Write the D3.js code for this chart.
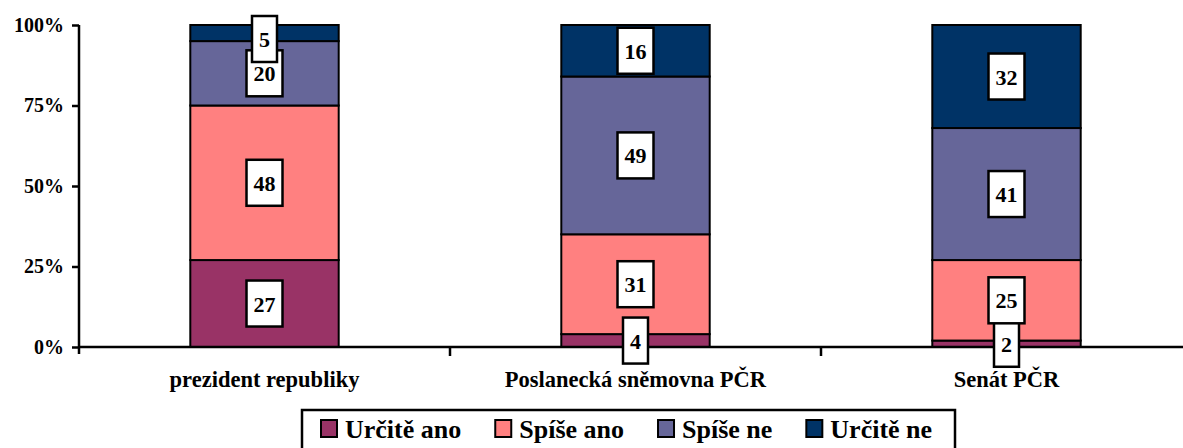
<!DOCTYPE html>
<html>
<head>
<meta charset="utf-8">
<script src="https://cdn.jsdelivr.net/npm/d3@7"></script>
<style>
html,body{margin:0;padding:0;background:#fff;}
svg{display:block;}
svg text{font-family:"Times New Roman","Liberation Serif",Tinos,"DejaVu Serif",serif !important;font-weight:bold;fill:#000;}
</style>
</head>
<body>
<svg id="chart" width="1183" height="448"></svg>
<script>
const categories = ["prezident republiky", "Poslanecká sněmovna PČR", "Senát PČR"];
const seriesNames = ["Určitě ano", "Spíše ano", "Spíše ne", "Určitě ne"];
const seriesColors = ["#993366", "#FF8080", "#666699", "#003366"];
const urciteAno = [27, 4, 2];
const spiseAno = [48, 31, 25];
const spiseNe = [20, 49, 41];
const urciteNe = [5, 16, 32];
const yTicks = [0, 25, 50, 75, 100];
const yTickLabels = ["0%", "25%", "50%", "75%", "100%"];

(function () {
const FONT = '"Times New Roman","Liberation Serif",Tinos,"DejaVu Serif",serif';
const seriesValues = [urciteAno, spiseAno, spiseNe, urciteNe];
const table = categories.map((c, i) => {
  const o = {cat: c};
  seriesNames.forEach((s, j) => o[s] = seriesValues[j][i]);
  return o;
});
const stacked = d3.stack().keys(seriesNames)(table);

const svg = d3.select("#chart");
const pLeft = 79, pTop = 25, pBottom = 347;
const step = 371;
const x = d3.scaleBand().domain(categories).range([pLeft, pLeft + step * categories.length])
  .paddingInner(0.6).paddingOuter(0.3);
const y = d3.scaleLinear().domain([0, 100]).range([pBottom, pTop]);

// bars
const g = svg.append("g");
stacked.forEach((layer, j) => {
  g.selectAll(null).data(layer).enter().append("rect")
    .attr("x", d => x(d.data.cat))
    .attr("width", x.bandwidth())
    .attr("y", d => y(d[1]))
    .attr("height", d => y(d[0]) - y(d[1]))
    .attr("fill", seriesColors[j])
    .attr("stroke", "#000")
    .attr("stroke-width", 2);
});

// y axis
const yAxis = d3.axisLeft(y).tickValues(yTicks).tickFormat((d, i) => yTickLabels[i]).tickSize(7).tickPadding(8);
const ya = svg.append("g").attr("transform", `translate(${pLeft},0)`).call(yAxis)
  .attr("font-family", FONT).attr("font-size", 20);
ya.select(".domain").attr("stroke", "#000").attr("stroke-width", 2.5).attr("d", `M0,${pTop}V${pBottom + 7}`);
ya.selectAll(".tick line").attr("stroke", "#000").attr("stroke-width", 2.5);
ya.selectAll(".tick text").attr("font-family", FONT).attr("font-weight", "bold").attr("fill", "#000");

// x axis
const xa = svg.append("g").attr("transform", `translate(0,${pBottom})`);
xa.append("line").attr("x1", pLeft).attr("x2", 1183).attr("y1", 0).attr("y2", 0)
  .attr("stroke", "#000").attr("stroke-width", 2.5);
categories.slice(1).forEach(c => {
  const bx = x(c) - x.step() * x.paddingInner() / 2;
  xa.append("line").attr("x1", bx).attr("x2", bx).attr("y1", 0).attr("y2", 9)
    .attr("stroke", "#000").attr("stroke-width", 2.5);
});
categories.forEach(c => {
  xa.append("text").attr("x", x(c) + x.bandwidth() / 2).attr("y", 40)
    .attr("text-anchor", "middle").attr("font-family", FONT).attr("font-size", 22.5).text(c);
});

// data labels
const lg = svg.append("g");
stacked.forEach((layer, j) => {
  layer.forEach(d => {
    const v = d[1] - d[0];
    let cy = y((d[0] + d[1]) / 2);
    cy = Math.max(cy, pTop + 14);
    const cx = x(d.data.cat) + x.bandwidth() / 2;
    const t = lg.append("text").attr("x", cx).attr("y", cy + 8).attr("text-anchor", "middle")
      .attr("font-family", FONT).attr("font-size", 22).text(v);
    const w = t.node().getComputedTextLength() + 14;
    lg.insert("rect", () => t.node()).attr("x", cx - w / 2).attr("y", cy - 23).attr("width", w).attr("height", 46)
      .attr("fill", "#fff").attr("stroke", "#000").attr("stroke-width", 2.5);
  });
});

// legend
const leg = svg.append("g");
leg.append("rect").attr("x", 302).attr("y", 410).attr("width", 653).attr("height", 50)
  .attr("fill", "#fff").attr("stroke", "#000").attr("stroke-width", 2.5);
let lx = 321;
seriesNames.forEach((s, j) => {
  leg.append("rect").attr("x", lx).attr("y", 420).attr("width", 16).attr("height", 17)
    .attr("fill", seriesColors[j]).attr("stroke", "#000").attr("stroke-width", 2);
  const t = leg.append("text").attr("x", lx + 24).attr("y", 438).attr("font-family", FONT).attr("font-size", 26).text(s);
  lx += 24 + t.node().getComputedTextLength() + 34;
});
})();
</script>
</body>
</html>
